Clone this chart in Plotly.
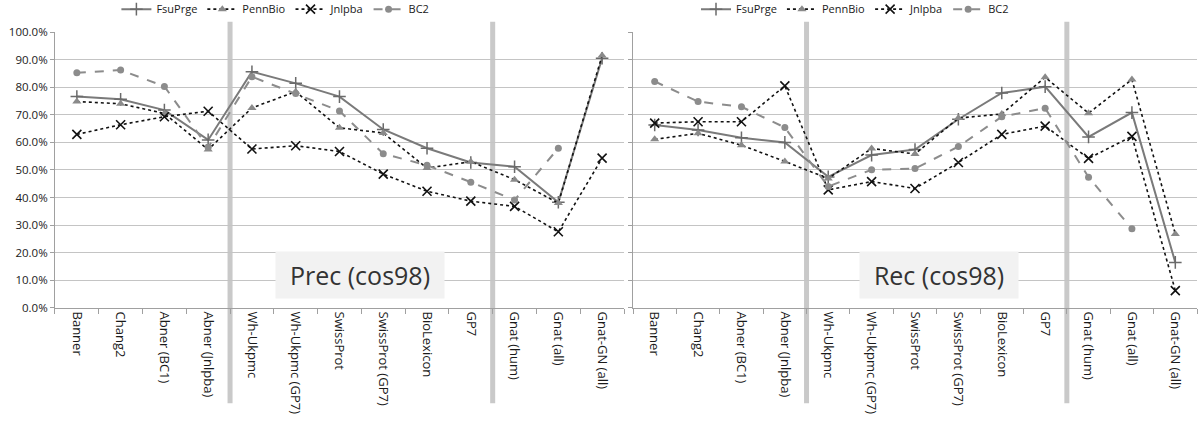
import plotly.graph_objects as go

categories = ["Banner", "Chang2", "Abner (BC1)", "Abner (Jnlpba)", "Wh-Ukpmc",
              "Wh-Ukpmc (GP7)", "SwissProt", "SwissProt (GP7)", "BioLexicon", "GP7",
              "Gnat (hum)", "Gnat (all)", "Gnat-GN (all)"]

series_names = ["FsuPrge", "PennBio", "Jnlpba", "BC2"]

prec_fsuprge = [0.766, 0.756, 0.717, 0.609, 0.856, 0.814, 0.766, 0.647, 0.579, 0.527, 0.512, 0.383, 0.905]
prec_pennbio = [0.748, 0.740, 0.705, 0.574, 0.725, 0.784, 0.653, 0.634, 0.507, 0.530, 0.465, 0.380, 0.915]
prec_jnlpba = [0.629, 0.664, 0.693, 0.713, 0.576, 0.588, 0.567, 0.485, 0.423, 0.387, 0.368, 0.276, 0.543]
prec_bc2 = [0.852, 0.862, 0.803, 0.582, 0.838, 0.777, 0.714, 0.559, 0.517, 0.456, 0.391, 0.579, None]

rec_fsuprge = [0.663, 0.645, 0.617, 0.600, 0.475, 0.554, 0.574, 0.684, 0.779, 0.802, 0.620, 0.708, 0.165]
rec_pennbio = [0.611, 0.633, 0.590, 0.531, 0.469, 0.578, 0.558, 0.688, 0.703, 0.836, 0.706, 0.828, 0.268]
rec_jnlpba = [0.670, 0.675, 0.675, 0.805, 0.428, 0.458, 0.433, 0.527, 0.629, 0.659, 0.542, 0.622, 0.063]
rec_bc2 = [0.821, 0.748, 0.729, 0.654, 0.440, 0.501, 0.505, 0.585, 0.693, 0.724, 0.474, 0.287, None]

y_ticks = [i / 10 for i in range(11)]
y_labels = [f"{i * 10:.1f}%" for i in range(11)]
separators = [3.5, 9.5]

FONT = "Open Sans"

styles = {
    "FsuPrge": dict(line=dict(color="#7a7a7a", width=2, dash="solid"),
                    marker=dict(symbol="cross-thin", size=9, color="#6a6a6a",
                                line=dict(color="#6a6a6a", width=1.5))),
    "PennBio": dict(line=dict(color="#111111", width=1.6, dash="dot"),
                    marker=dict(symbol="triangle-up", size=8, color="#8a8a8a",
                                line=dict(color="#8a8a8a", width=0))),
    "Jnlpba": dict(line=dict(color="#111111", width=1.6, dash="dot"),
                   marker=dict(symbol="x-thin", size=9, color="#111111",
                               line=dict(color="#111111", width=1.6))),
    "BC2": dict(line=dict(color="#8c8c8c", width=2, dash="dash"),
                marker=dict(symbol="circle", size=7, color="#8c8c8c",
                            line=dict(color="#8c8c8c", width=0))),
}

fig = go.Figure()

panels = [
    ("x", "y", "legend", [prec_fsuprge, prec_pennbio, prec_jnlpba, prec_bc2]),
    ("x2", "y2", "legend2", [rec_fsuprge, rec_pennbio, rec_jnlpba, rec_bc2]),
]
for xa, ya, lg, data in panels:
    for name, vals in zip(series_names, data):
        st = styles[name]
        fig.add_trace(go.Scatter(
            x=categories, y=vals, name=name, mode="lines+markers",
            xaxis=xa, yaxis=ya, legend=lg,
            line=st["line"], marker=st["marker"], connectgaps=False,
        ))

ydom = [0.308, 0.928]
axis_common_x = dict(
    type="category", categoryorder="array", categoryarray=categories,
    tickangle=90, tickson="boundaries", ticks="outside", ticklen=5,
    tickcolor="#a0a0a0", showline=True, linecolor="#a0a0a0", linewidth=1,
    showgrid=False, tickfont=dict(family=FONT, size=13, color="#1a1a1a"),
    range=[-0.5, 12.5], zeroline=False, automargin=False,
)
axis_common_y = dict(
    range=[0, 1.0], tickvals=y_ticks, ticktext=y_labels, ticks="outside", ticklen=4,
    tickcolor="#a0a0a0", showline=True, linecolor="#a0a0a0", linewidth=1,
    showgrid=False, zeroline=False, domain=ydom, automargin=False,
    minor=dict(tickvals=y_ticks[1:-1], showgrid=True, gridcolor="#c4c4c4",
               gridwidth=1, ticks=""),
    tickfont=dict(family=FONT, size=11.5, color="#1a1a1a"),
)

legend_common = dict(orientation="h", y=1.012, xanchor="left", yanchor="top",
                     font=dict(family=FONT, size=11, color="#1a1a1a"),
                     itemwidth=30, bgcolor="rgba(0,0,0,0)", tracegroupgap=0)

fig.update_layout(
    width=1200, height=445,
    margin=dict(l=0, r=0, t=0, b=0, autoexpand=False),
    paper_bgcolor="white", plot_bgcolor="white",
    font=dict(family=FONT, color="#222222"),
    xaxis=dict(domain=[0.0458, 0.5200], anchor="y", **axis_common_x),
    xaxis2=dict(domain=[0.5275, 0.9975], anchor="y2", **axis_common_x),
    yaxis=dict(anchor="x", showticklabels=True, **axis_common_y),
    yaxis2=dict(anchor="x2", showticklabels=False, **axis_common_y),
    legend=dict(x=0.097, **legend_common),
    legend2=dict(x=0.580, **legend_common),
    showlegend=True,
)

for xref in ["x", "x2"]:
    for s in separators:
        fig.add_shape(type="line", xref=xref, yref="paper", x0=s, x1=s,
                      y0=0.094, y1=0.951, line=dict(color="#c9c9c9", width=5),
                      layer="below")

fig.add_annotation(text="Prec (cos98)", xref="x", yref="y", x=6.46, y=0.12,
                   showarrow=False, bgcolor="#f2f2f2", width=166, height=44,
                   font=dict(family=FONT, size=25, color="#333333"))
fig.add_annotation(text="Rec (cos98)", xref="x2", yref="y2", x=6.55, y=0.12,
                   showarrow=False, bgcolor="#f2f2f2", width=156, height=44,
                   font=dict(family=FONT, size=25, color="#333333"))

fig.write_html("out.html", config={"displayModeBar": False},
               post_script="document.body.style.margin='0';document.body.style.overflow='hidden';")
